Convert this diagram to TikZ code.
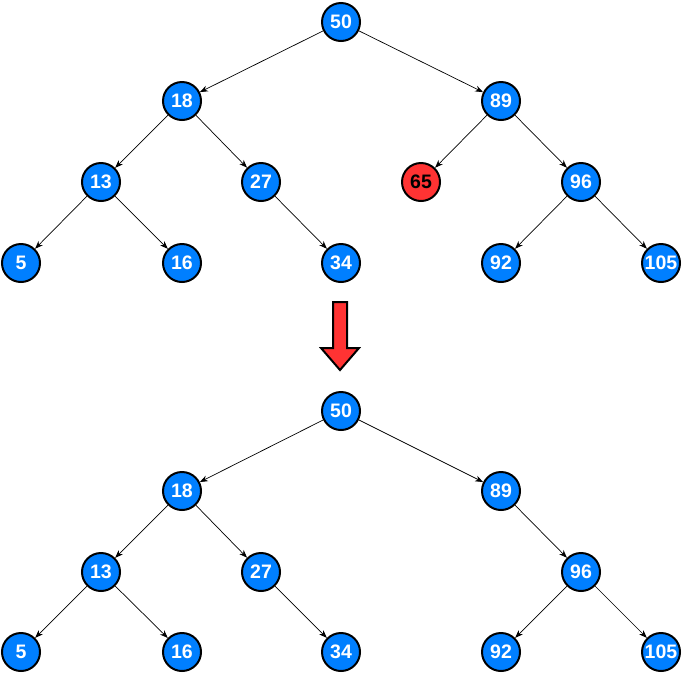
\documentclass[tikz,border=0pt]{standalone}
\usepackage{fontspec}
\setmainfont{Liberation Sans}
\usetikzlibrary{arrows.meta}
\definecolor{nblue}{RGB}{0,127,255}
\definecolor{nred}{RGB}{255,51,51}
\begin{document}
\begin{tikzpicture}[x=1pt,y=-1pt,
  tn/.style={circle,draw=black,line width=2pt,fill=nblue,minimum size=38pt,inner sep=0pt,
    font=\fontsize{19.5}{21}\selectfont\bfseries,text=white},
  rn/.style={tn,fill=nred,text=black},
  ed/.style={-{Stealth[length=8pt,width=6pt]},line width=0.7pt,black},
  bigarrow/.style={draw=black,line width=2pt,fill=nred,line join=miter}]
\useasboundingbox (0,0) rectangle (682,673);
% top tree
\node[tn] (a50) at (341,22) {50};
\node[tn] (a18) at (182,101) {18};
\node[tn] (a89) at (501,101) {89};
\node[tn] (a13) at (101,182) {13};
\node[tn] (a27) at (261,182) {27};
\node[rn] (a65) at (421,182) {65};
\node[tn] (a96) at (581,182) {96};
\node[tn] (a5) at (21,263) {5};
\node[tn] (a16) at (182,263) {16};
\node[tn] (a34) at (341,263) {34};
\node[tn] (a92) at (501,263) {92};
\node[tn] (a105) at (661,263) {105};
\draw[ed] (a50) -- (a18);
\draw[ed] (a50) -- (a89);
\draw[ed] (a18) -- (a13);
\draw[ed] (a18) -- (a27);
\draw[ed] (a89) -- (a65);
\draw[ed] (a89) -- (a96);
\draw[ed] (a13) -- (a5);
\draw[ed] (a13) -- (a16);
\draw[ed] (a27) -- (a34);
\draw[ed] (a96) -- (a92);
\draw[ed] (a96) -- (a105);
% arrow
\draw[bigarrow] (333,302) -- (347,302) -- (347,348) -- (359,348) -- (340,370)
  -- (321,348) -- (333,348) -- cycle;
% bottom tree
\node[tn] (b50) at (341,411) {50};
\node[tn] (b18) at (182,491) {18};
\node[tn] (b89) at (501,491) {89};
\node[tn] (b13) at (101,572) {13};
\node[tn] (b27) at (261,572) {27};
\node[tn] (b96) at (581,572) {96};
\node[tn] (b5) at (21,652) {5};
\node[tn] (b16) at (182,652) {16};
\node[tn] (b34) at (341,652) {34};
\node[tn] (b92) at (501,652) {92};
\node[tn] (b105) at (661,652) {105};
\draw[ed] (b50) -- (b18);
\draw[ed] (b50) -- (b89);
\draw[ed] (b18) -- (b13);
\draw[ed] (b18) -- (b27);
\draw[ed] (b89) -- (b96);
\draw[ed] (b13) -- (b5);
\draw[ed] (b13) -- (b16);
\draw[ed] (b27) -- (b34);
\draw[ed] (b96) -- (b92);
\draw[ed] (b96) -- (b105);
\end{tikzpicture}
\end{document}
